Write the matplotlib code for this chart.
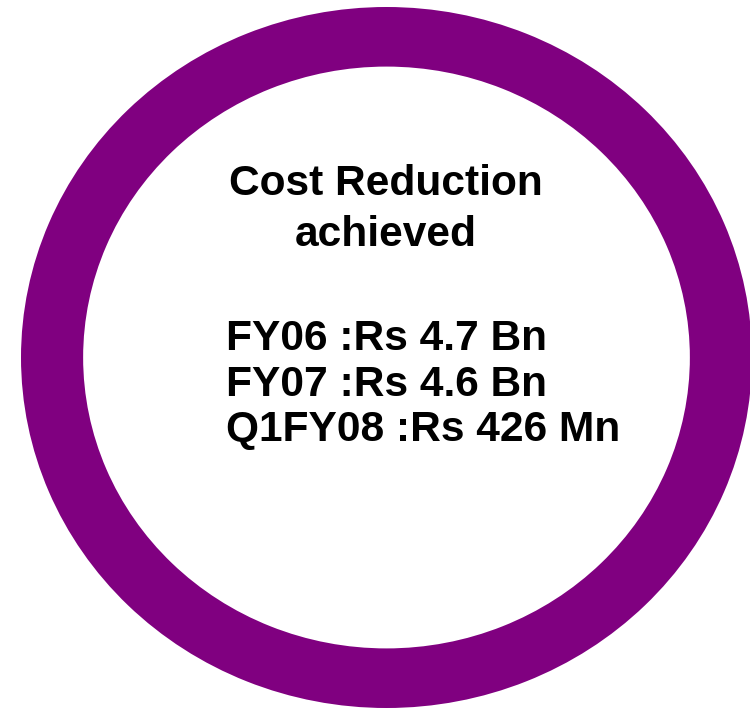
import matplotlib
matplotlib.use("Agg")
import matplotlib.pyplot as plt

# Data
title_lines = ["Cost Reduction", "achieved"]
periods = ["FY06", "FY07", "Q1FY08"]
amounts = ["Rs 4.7 Bn", "Rs 4.6 Bn", "Rs 426 Mn"]
ring_value = [1]

W, H = 750, 710
fig = plt.figure(figsize=(W / 100, H / 100), dpi=100)
fig.patch.set_facecolor("white")

# Ring (elliptical donut) spanning its pixel bounding box
x0, x1, y0, y1 = 21, 752, 7, 708
ax = fig.add_axes([x0 / W, 1 - y1 / H, (x1 - x0) / W, (y1 - y0) / H])
ax.pie(ring_value, radius=1, colors=["#800080"], startangle=90,
       wedgeprops=dict(width=0.17, edgecolor="none"))
ax.set_aspect("auto")
ax.set_xlim(-1, 1)
ax.set_ylim(-1, 1)
ax.axis("off")

font = dict(fontsize=30.6, fontweight="bold", family=["Liberation Sans", "DejaVu Sans"], color="black")

title_baselines = [195, 246]
for txt, yb in zip(title_lines, title_baselines):
    fig.text(385.5 / W, 1 - yb / H, txt, ha="center", va="baseline", **font)

value_baselines = [350, 395.5, 441]
for p, a, yb in zip(periods, amounts, value_baselines):
    fig.text(226 / W, 1 - yb / H, f"{p} :{a}", ha="left", va="baseline", **font)

fig.savefig("out.png", dpi=100, facecolor="white")
